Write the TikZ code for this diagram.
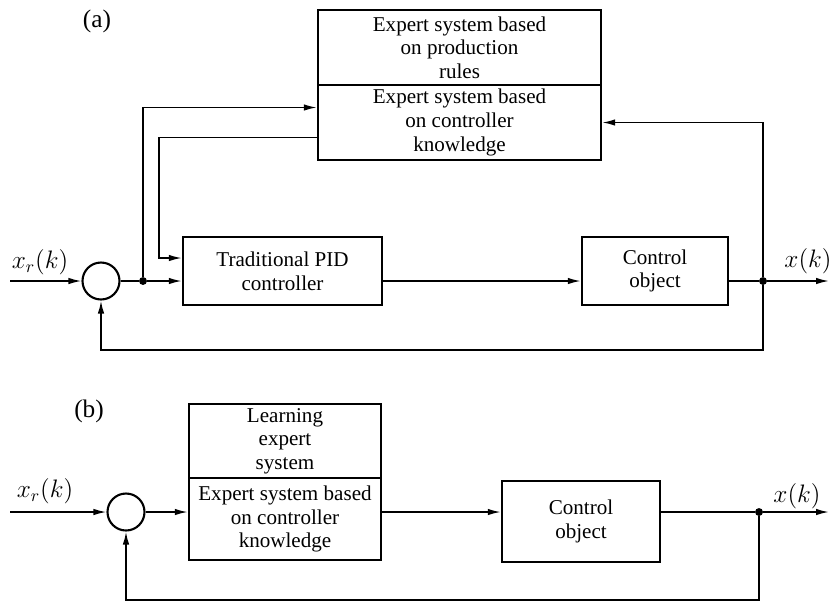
\documentclass[tikz,border=0pt]{standalone}
\usepackage{fontspec}
\setmainfont{Liberation Serif}
\usetikzlibrary{arrows.meta,positioning}

\begin{document}
\begin{tikzpicture}[
  x=0.02cm, y=-0.02cm,
  blk/.style={draw, line width=1.4pt, align=center, inner sep=1pt,
              font=\fontsize{12}{13.5}\selectfont},
  sumc/.style={draw, circle, line width=1.2pt, minimum size=0.74cm, inner sep=0pt},
  jdot/.style={circle, fill, inner sep=0pt, minimum size=4.5pt},
  arr/.style={-{Latex[length=2.6mm,width=1.3mm]}, line width=0.9pt},
  ln/.style={line width=0.9pt},
  lbl/.style={font=\Large}
]
\useasboundingbox (0,0) rectangle (830,603);

% (a)
\node[lbl] (tagA) at (97,21) {(a)};
\node[blk, minimum width=5.66cm, minimum height=1.5cm] (rulesA) at (459.5,47.5) {Expert system based\\on production\\rules};
\node[blk, minimum width=5.66cm, minimum height=1.5cm] (knowA) at (459.5,122.5) {Expert system based\\on controller\\knowledge};
\node[blk, minimum width=3.98cm, minimum height=1.36cm] (pid) at (282.5,271) {Traditional PID\\controller};
\node[blk, minimum width=2.92cm, minimum height=1.36cm] (plantA) at (655,271) {Control\\object};
\node[sumc] (sumA) at (101,281) {};
\node[jdot] (jA) at (143,281) {};
\node[jdot] (yA) at (763,281) {};
\coordinate (inA) at (10,281);
\coordinate (outA) at (829,281);
\coordinate (fbA) at (0,350);
\node[lbl] (xrA) at (40,262) {$x_r(k)$};
\node[lbl] (xA) at (808,261) {$x(k)$};

\draw[arr] (inA) -- (sumA.west);
\draw[ln] (sumA.east) -- (jA);
\draw[arr] (jA) -- (pid.west |- jA);
\draw[arr] (jA) |- ([yshift=0.3cm]knowA.west);
\draw[arr] ([yshift=-0.3cm]knowA.west) -| ([xshift=-0.46cm,yshift=0.26cm]pid.west) -- ([yshift=0.26cm]pid.west);
\draw[arr] (pid.east |- jA) -- (plantA.west |- jA);
\draw[ln] (plantA.east |- yA) -- (yA);
\draw[arr] (yA) -- (outA);
\draw[arr] (yA) |- (knowA.east);
\draw[arr] (yA) -- (yA |- fbA) -| (sumA.south);

% (b)
\node[lbl] (tagB) at (89,411) {(b)};
\node[blk, minimum width=3.84cm, minimum height=1.48cm] (learnB) at (285,441) {Learning\\expert\\system};
\node[blk, minimum width=3.84cm, minimum height=1.64cm] (knowB) at (285,519) {Expert system based\\on controller\\knowledge};
\node[blk, minimum width=3.16cm, minimum height=1.62cm] (plantB) at (581,521.5) {Control\\object};
\node[sumc] (sumB) at (126,512) {};
\node[jdot] (yB) at (759,512) {};
\coordinate (inB) at (10,512);
\coordinate (outB) at (829,512);
\coordinate (fbB) at (0,600);
\node[lbl] (xrB) at (45,491) {$x_r(k)$};
\node[lbl] (xB) at (797,496) {$x(k)$};

\draw[arr] (inB) -- (sumB.west);
\draw[arr] (sumB.east) -- (knowB.west |- sumB);
\draw[arr] (knowB.east |- sumB) -- (plantB.west |- sumB);
\draw[ln] (plantB.east |- yB) -- (yB);
\draw[arr] (yB) -- (outB);
\draw[arr] (yB) -- (yB |- fbB) -| (sumB.south);
\end{tikzpicture}
\end{document}
